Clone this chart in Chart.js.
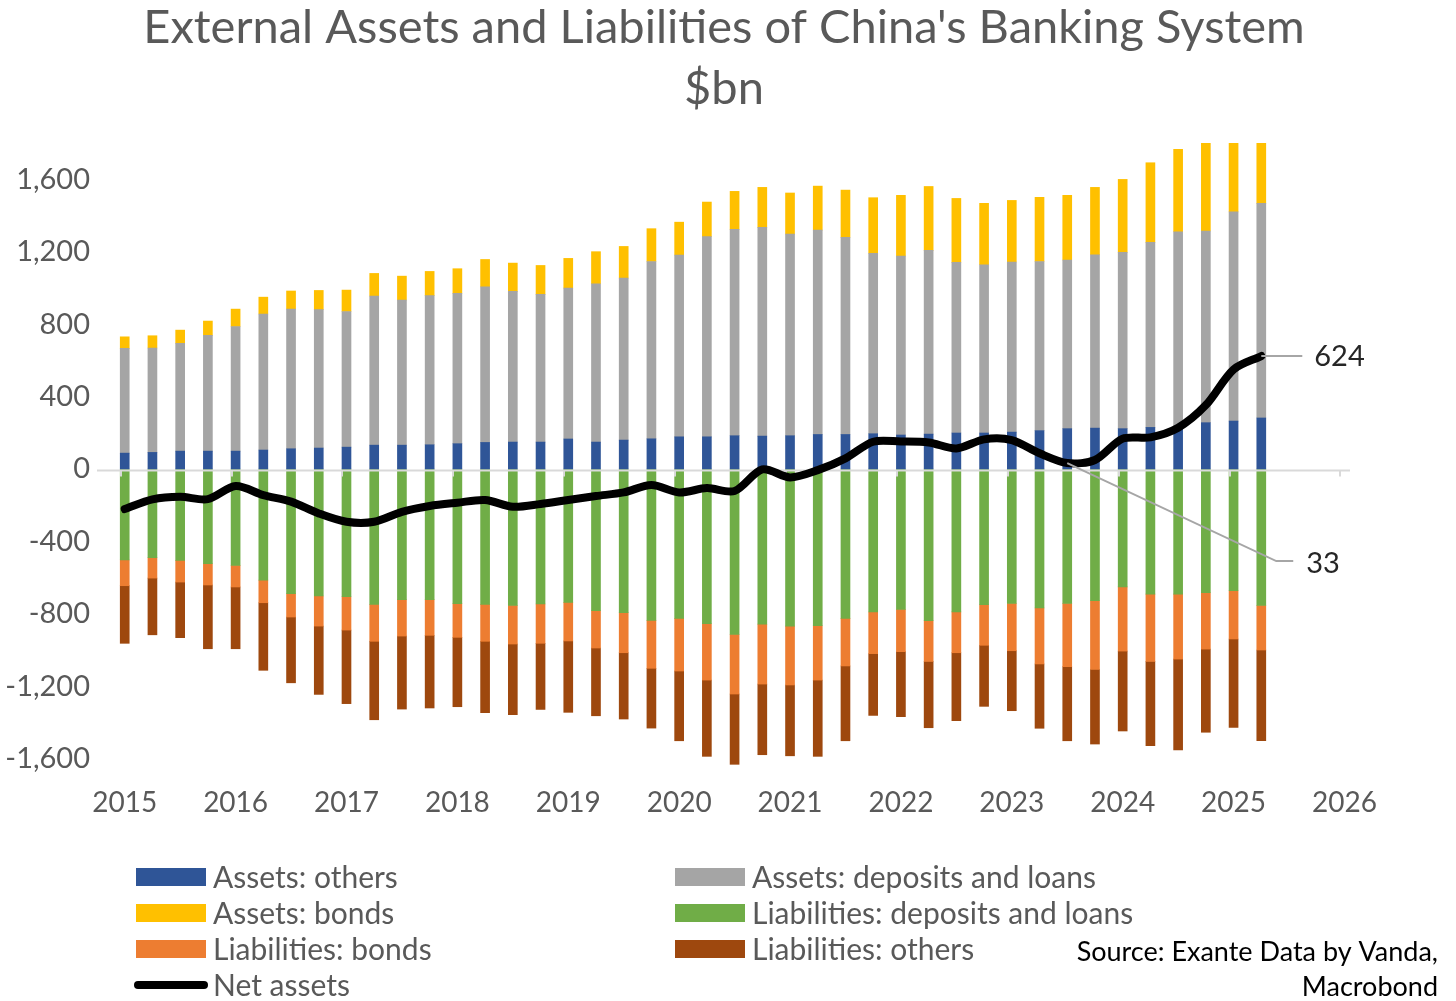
<!DOCTYPE html>
<html>
<head>
<meta charset="utf-8">
<title>External Assets and Liabilities of China's Banking System</title>
<script src="https://cdn.jsdelivr.net/npm/chart.js@4.4.1/dist/chart.umd.min.js"></script>
<style>
  html, body { margin: 0; padding: 0; background: #fff; }
  #wrap { width: 1456px; height: 1001px; position: relative; }
</style>
</head>
<body>
<div id="wrap"><canvas id="chart"></canvas></div>
<script>
// Quarterly data, $bn
const quarters = [
  "2015Q1","2015Q2","2015Q3","2015Q4","2016Q1","2016Q2","2016Q3","2016Q4",
  "2017Q1","2017Q2","2017Q3","2017Q4","2018Q1","2018Q2","2018Q3","2018Q4",
  "2019Q1","2019Q2","2019Q3","2019Q4","2020Q1","2020Q2","2020Q3","2020Q4",
  "2021Q1","2021Q2","2021Q3","2021Q4","2022Q1","2022Q2","2022Q3","2022Q4",
  "2023Q1","2023Q2","2023Q3","2023Q4","2024Q1","2024Q2","2024Q3","2024Q4",
  "2025Q1","2025Q2"
];
const assetsOthers = [88, 92, 99, 99, 99, 105, 112, 116, 121, 132, 132, 134, 140, 147,
  149, 149, 166, 149, 160, 167, 178, 178, 184, 182, 184, 191, 191, 195,
  188, 193, 199, 199, 204, 212, 223, 226, 223, 230, 235, 256, 265, 282];
const assetsDeposits = [578, 576, 595, 639, 688, 751, 771, 764, 749, 823, 801, 823, 830, 859,
  832, 815, 833, 874, 894, 979, 1003, 1105, 1139, 1152, 1113, 1128, 1088, 996,
  988, 1014, 942, 929, 939, 934, 931, 957, 973, 1021, 1075, 1058, 1155, 1185];
const assetsBonds = [64, 68, 73, 79, 96, 93, 100, 106, 118, 125, 132, 134, 136, 151,
  156, 160, 164, 177, 175, 181, 182, 191, 210, 221, 227, 243, 261, 307,
  335, 353, 353, 339, 340, 354, 357, 372, 403, 440, 455, 492, 556, 657];
const liabDeposits = [-502, -489, -504, -523, -532, -613, -688, -701, -705, -747, -721, -721, -743, -747,
  -753, -745, -736, -782, -793, -835, -824, -854, -913, -856, -867, -865, -824, -789,
  -775, -837, -788, -749, -742, -767, -742, -727, -650, -690, -690, -683, -672, -753];
const liabBonds = [-142, -113, -120, -117, -119, -125, -129, -166, -184, -204, -201, -197, -186, -204,
  -213, -217, -213, -206, -221, -265, -291, -311, -329, -331, -325, -300, -263, -230,
  -233, -225, -226, -224, -261, -309, -349, -379, -355, -372, -359, -311, -266, -246];
const liabOthers = [-318, -313, -307, -352, -341, -373, -363, -377, -406, -433, -403, -401, -383, -394,
  -390, -365, -394, -374, -366, -330, -385, -421, -388, -390, -391, -421, -413, -341,
  -359, -366, -375, -337, -331, -355, -409, -412, -441, -465, -502, -459, -488, -501];
const netAssets = [-221, -167, -153, -166, -94, -144, -180, -245, -291, -291, -236, -204, -186, -171,
  -208, -193, -171, -149, -129, -88, -129, -105, -121, -2, -46, -6, 59, 151,
  152, 147, 114, 164, 160, 87, 33, 50, 168, 175, 228, 353, 550, 624];

const yearTicks = [2015, 2016, 2017, 2018, 2019, 2020, 2021, 2022, 2023, 2024, 2025, 2026];
const valueTicks = [-1600, -1200, -800, -400, 0, 400, 800, 1200, 1600];
const labelledPoints = [34, 41]; // quarters whose net value is written beside the line
const titleLines = ["External Assets and Liabilities of China's Banking System", "$bn"];

const FONT = "Lato, 'Open Sans', sans-serif";
const GREY_TEXT = "#595959";

// quarter "2015Q3" -> 2015.5 on the time axis
function quarterPos(q) {
  return parseInt(q.slice(0, 4), 10) + (parseInt(q.slice(5), 10) - 1) / 4;
}
function toPoints(values) {
  return values.map((v, i) => ({ x: quarterPos(quarters[i]), y: v }));
}

function barSet(label, values, color) {
  return {
    type: "bar",
    label: label,
    data: toPoints(values),
    backgroundColor: color,
    borderWidth: 0,
    barThickness: 9,
    order: 1
  };
}

// title, centred on the page rather than on the plot
const pageTitle = {
  id: "pageTitle",
  afterDraw(chart) {
    const { ctx } = chart;
    ctx.save();
    ctx.font = "47px " + FONT;
    ctx.fillStyle = GREY_TEXT;
    ctx.textAlign = "center";
    ctx.textBaseline = "middle";
    ctx.fillText(titleLines[0], 724, 28);
    ctx.fillText(titleLines[1], 724, 89);
    ctx.restore();
  }
};

// zero axis with year tick marks, drawn over the bars but under the net line
const zeroAxis = {
  id: "zeroAxis",
  beforeDatasetDraw(chart, args) {
    if (args.meta.type !== "line") return;
    const { ctx, chartArea } = chart;
    const x = chart.scales.x, y = chart.scales.y;
    const y0 = Math.round(y.getPixelForValue(0)) + 1.5;
    ctx.save();
    ctx.strokeStyle = "#d9d9d9";
    ctx.lineWidth = 2;
    ctx.beginPath();
    ctx.moveTo(chartArea.left, y0);
    ctx.lineTo(chartArea.right, y0);
    yearTicks.forEach((t) => {
      const px = Math.round(x.getPixelForValue(t)) - 4;
      ctx.moveTo(px, y0);
      ctx.lineTo(px, y0 + 6);
    });
    ctx.stroke();
    ctx.restore();
  }
};

// value labels with leader lines
const netLabels = {
  id: "netLabels",
  afterDatasetsDraw(chart) {
    const { ctx } = chart;
    const idx = chart.data.datasets.length - 1;
    const meta = chart.getDatasetMeta(idx);
    const values = chart.data.datasets[idx].data;
    ctx.save();
    ctx.strokeStyle = "#a6a6a6";
    ctx.lineWidth = 2;
    ctx.font = "29px " + FONT;
    ctx.fillStyle = "#262626";
    ctx.textBaseline = "middle";
    labelledPoints.forEach((i) => {
      const p = meta.data[i];
      let tx, ty;
      ctx.beginPath();
      ctx.moveTo(p.x, p.y);
      if (i === quarters.length - 1) {
        tx = p.x + 53; ty = p.y + 1;
        ctx.lineTo(p.x + 41, p.y);
      } else {
        tx = p.x + 239; ty = p.y + 101;
        ctx.lineTo(p.x + 209, p.y + 98);
        ctx.lineTo(p.x + 226, p.y + 98);
      }
      ctx.stroke();
      ctx.fillText(String(values[i].y), tx, ty);
    });
    ctx.restore();
  }
};

// two-column legend plus the source note
const legendBlock = {
  id: "legendBlock",
  afterDraw(chart) {
    const { ctx } = chart;
    const colX = [136, 675];
    const rowY = [877, 913, 949, 985];
    ctx.save();
    ctx.font = "30px " + FONT;
    ctx.textBaseline = "middle";
    chart.data.datasets.forEach((ds, i) => {
      const x = colX[i % 2];
      const y = rowY[Math.floor(i / 2)];
      if (ds.type === "line") {
        ctx.strokeStyle = ds.borderColor;
        ctx.lineWidth = 8;
        ctx.lineCap = "round";
        ctx.beginPath();
        ctx.moveTo(x + 2, y);
        ctx.lineTo(x + 68, y);
        ctx.stroke();
      } else {
        ctx.fillStyle = ds.backgroundColor;
        ctx.fillRect(x, y - 9, 70, 18);
      }
      ctx.fillStyle = GREY_TEXT;
      ctx.fillText(ds.label, x + 77, y + 1);
    });
    ctx.fillStyle = "#000";
    ctx.textAlign = "right";
    ctx.font = "27px " + FONT;
    ctx.fillText("Source: Exante Data by Vanda,", 1438, 952);
    ctx.fillText("Macrobond", 1438, 987);
    ctx.restore();
  }
};

new Chart(document.getElementById("chart"), {
  data: {
    datasets: [
      barSet("Assets: others", assetsOthers, "#2f5597"),
      barSet("Assets: deposits and loans", assetsDeposits, "#a5a5a5"),
      barSet("Assets: bonds", assetsBonds, "#ffc000"),
      barSet("Liabilities: deposits and loans", liabDeposits, "#70ad47"),
      barSet("Liabilities: bonds", liabBonds, "#ed7d31"),
      barSet("Liabilities: others", liabOthers, "#9e480e"),
      {
        type: "line",
        label: "Net assets",
        data: toPoints(netAssets),
        borderColor: "#000000",
        backgroundColor: "#000000",
        borderWidth: 8,
        pointRadius: 0,
        tension: 0.3,
        borderCapStyle: "round",
        borderJoinStyle: "round",
        stack: "net",
        order: 0
      }
    ]
  },
  options: {
    responsive: true,
    maintainAspectRatio: false,
    animation: false,
    layout: { padding: { left: 0, right: 106, top: 143, bottom: 180 } },
    plugins: {
      legend: { display: false },
      tooltip: { enabled: false },
      title: { display: false }
    },
    scales: {
      x: {
        type: "linear",
        stacked: true,
        offset: false,
        min: 2014.75,
        max: 2026.05,
        grid: { display: false, drawTicks: false },
        border: { display: false },
        afterBuildTicks: (s) => { s.ticks = yearTicks.map((v) => ({ value: v })); },
        afterFit: (s) => { s.height = 44; },
        ticks: {
          autoSkip: false,
          maxRotation: 0,
          padding: 9,
          color: GREY_TEXT,
          font: { family: FONT, size: 28 },
          callback: (v) => String(v)
        }
      },
      y: {
        stacked: true,
        min: -1700,
        max: 1800,
        grid: { display: false, drawTicks: false },
        border: { display: false },
        afterBuildTicks: (s) => { s.ticks = valueTicks.map((v) => ({ value: v })); },
        afterFit: (s) => { s.width = 97; },
        ticks: {
          padding: 7,
          color: GREY_TEXT,
          font: { family: FONT, size: 29 },
          callback: (v) => v.toLocaleString("en-US")
        }
      }
    }
  },
  plugins: [pageTitle, zeroAxis, netLabels, legendBlock]
});
</script>
</body>
</html>
